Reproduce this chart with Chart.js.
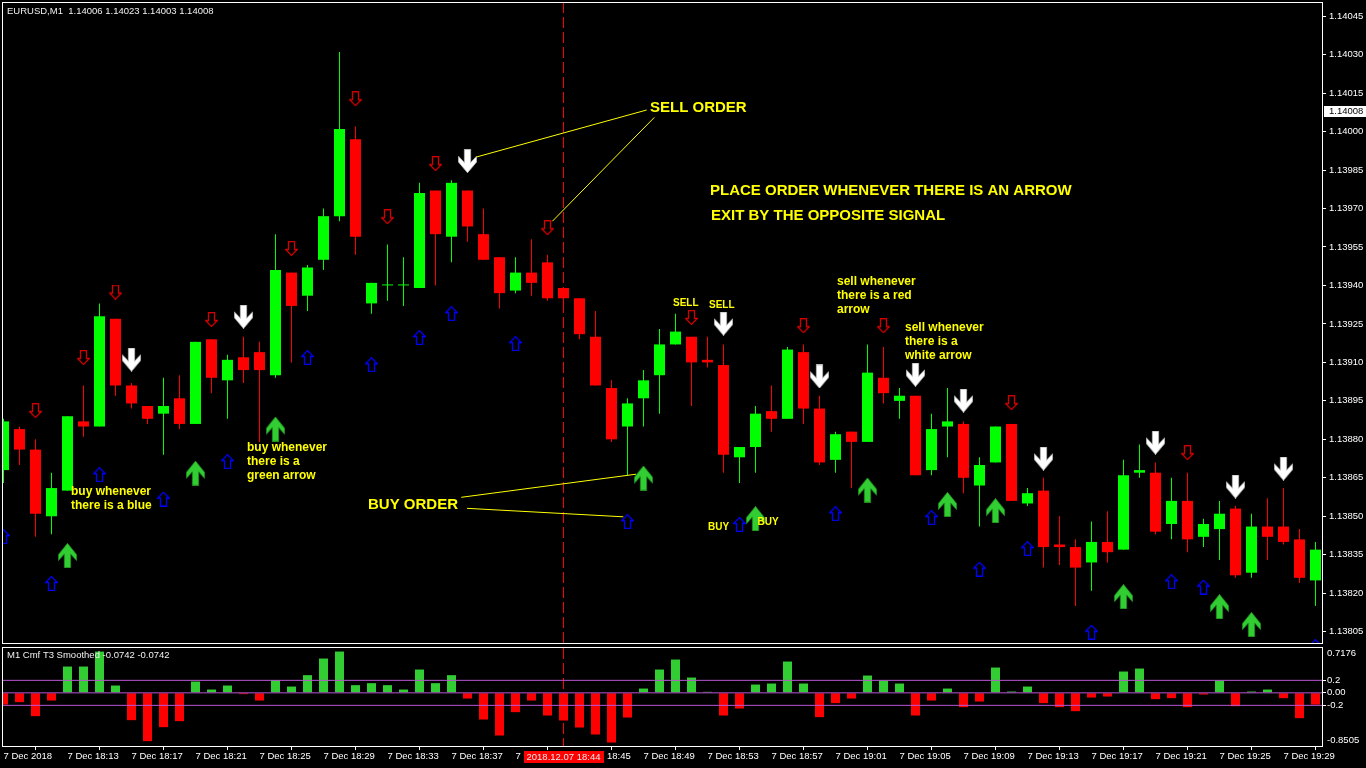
<!DOCTYPE html>
<html>
<head>
<meta charset="utf-8">
<title>EURUSD M1</title>
<script src="https://cdn.jsdelivr.net/npm/chart.js@4.4.0/dist/chart.umd.min.js"></script>
<style>
  html, body { margin: 0; padding: 0; background: #000; overflow: hidden; }
  #wrap { position: relative; width: 1366px; height: 768px; background: #000; }
  #priceCanvas { position: absolute; left: 0; top: 0; }
  #cmfCanvas { position: absolute; left: 0; top: 645px; }
</style>
</head>
<body>
<div id="wrap">
  <canvas id="priceCanvas" width="1366" height="645"></canvas>
  <canvas id="cmfCanvas" width="1366" height="123"></canvas>
</div>
<script>
// ---- EURUSD M1 bars, 7 Dec 2018 18:09 .. 19:31 ----
const barOpen = [
  1.13868,1.13884,1.13876,1.13850,1.13860,1.13887,1.13885,1.13927,1.13901,1.13893,
  1.13890,1.13896,1.13886,1.13919,1.13903,1.13912,1.13914,1.13905,1.13945,1.13936,
  1.13950,1.13967,1.13997,1.13933,1.13940,1.13940,1.13939,1.13977,1.13959,1.13977,
  1.13960,1.13951,1.13938,1.13945,1.13949,1.13939,1.13935,1.13920,1.13900,1.13885,
  1.13896,1.13905,1.13917,1.13920,1.13911,1.13909,1.13873,1.13877,1.13891,1.13888,
  1.13914,1.13892,1.13872,1.13883,1.13879,1.13904,1.13895,1.13897,1.13868,1.13885,
  1.13886,1.13862,1.13871,1.13886,1.13855,1.13860,1.13839,1.13838,1.13832,1.13840,
  1.13837,1.13867,1.13867,1.13847,1.13856,1.13842,1.13845,1.13853,1.13828,1.13846,
  1.13846,1.13841,1.13825
];
const barHigh = [
  1.13888,1.13885,1.13880,1.13867,1.13889,1.13901,1.13933,1.13927,1.13902,1.13893,
  1.13904,1.13905,1.13918,1.13919,1.13913,1.13920,1.13918,1.13960,1.13945,1.13948,
  1.13970,1.14031,1.14002,1.13941,1.13956,1.13951,1.13980,1.13977,1.13981,1.13977,
  1.13970,1.13951,1.13951,1.13958,1.13952,1.13939,1.13935,1.13930,1.13903,1.13896,
  1.13907,1.13923,1.13929,1.13920,1.13920,1.13917,1.13877,1.13893,1.13901,1.13916,
  1.13917,1.13897,1.13883,1.13883,1.13917,1.13916,1.13900,1.13897,1.13890,1.13900,
  1.13887,1.13873,1.13885,1.13886,1.13861,1.13865,1.13850,1.13841,1.13848,1.13852,
  1.13872,1.13878,1.13871,1.13865,1.13867,1.13849,1.13856,1.13854,1.13851,1.13857,
  1.13861,1.13845,1.13840
];
const barLow = [
  1.13863,1.13870,1.13842,1.13843,1.13860,1.13881,1.13885,1.13897,1.13892,1.13886,
  1.13874,1.13884,1.13886,1.13898,1.13888,1.13902,1.13879,1.13904,1.13910,1.13930,
  1.13946,1.13965,1.13952,1.13929,1.13934,1.13932,1.13939,1.13940,1.13949,1.13957,
  1.13950,1.13931,1.13937,1.13936,1.13934,1.13933,1.13919,1.13901,1.13879,1.13866,
  1.13885,1.13890,1.13917,1.13893,1.13908,1.13867,1.13863,1.13867,1.13883,1.13888,
  1.13886,1.13870,1.13867,1.13861,1.13879,1.13894,1.13888,1.13866,1.13866,1.13873,
  1.13859,1.13846,1.13871,1.13856,1.13854,1.13830,1.13831,1.13815,1.13821,1.13832,
  1.13837,1.13865,1.13843,1.13841,1.13836,1.13838,1.13833,1.13826,1.13826,1.13833,
  1.13839,1.13824,1.13815
];
const barClose = [
  1.13887,1.13876,1.13851,1.13861,1.13889,1.13885,1.13928,1.13901,1.13894,1.13888,
  1.13893,1.13886,1.13918,1.13904,1.13911,1.13907,1.13907,1.13946,1.13932,1.13947,
  1.13967,1.14001,1.13959,1.13941,1.13940,1.13940,1.13976,1.13960,1.13980,1.13963,
  1.13950,1.13937,1.13945,1.13941,1.13935,1.13935,1.13921,1.13901,1.13880,1.13894,
  1.13903,1.13917,1.13922,1.13910,1.13910,1.13874,1.13877,1.13890,1.13888,1.13915,
  1.13892,1.13871,1.13882,1.13879,1.13906,1.13898,1.13897,1.13866,1.13884,1.13887,
  1.13865,1.13870,1.13885,1.13856,1.13859,1.13838,1.13838,1.13830,1.13840,1.13836,
  1.13866,1.13868,1.13844,1.13856,1.13841,1.13847,1.13851,1.13827,1.13846,1.13842,
  1.13840,1.13826,1.13837
];

// ---- Cmf T3 smoothed histogram, one value per bar ----
const cmfValues = [
  -0.187,-0.149,-0.373,-0.123,0.421,0.421,0.660,0.117,-0.437,-0.773,
  -0.549,-0.453,0.181,0.053,0.117,-0.021,-0.123,0.203,0.101,0.283,
  0.549,0.661,0.123,0.155,0.123,0.053,0.373,0.155,0.283,-0.091,
  -0.427,-0.683,-0.309,-0.123,-0.363,-0.443,-0.555,-0.667,-0.795,-0.395,
  0.069,0.373,0.533,0.245,0.016,-0.363,-0.251,0.133,0.149,0.501,
  0.149,-0.389,-0.165,-0.091,0.277,0.197,0.149,-0.363,-0.123,0.069,
  -0.229,-0.139,0.405,0.021,0.101,-0.165,-0.229,-0.293,-0.075,-0.059,
  0.341,0.389,-0.101,-0.085,-0.229,-0.027,0.197,-0.213,0.021,0.053,
  -0.085,-0.405,-0.187
];
const cmfLevels = [0.2, 0, -0.2];
const cmfRange = [-0.8505, 0.7176];

// ---- signal arrows: bar index + level ----
const redDownBars   = [2,5,7,13,18,22,24,27,34,43,50,55,63,74];
const redDownLevels = [1.138912,1.139119,1.139374,1.139267,1.139544,1.140128,1.139668,1.139875,1.139625,1.139275,1.139243,1.139243,1.138943,1.138748];
const blueUpBars    = [0,3,6,10,14,19,23,26,28,32,39,46,52,58,61,64,68,73,75,82];
const blueUpLevels  = [1.138421,1.138238,1.138662,1.138567,1.138713,1.139119,1.139091,1.139197,1.139290,1.139173,1.138479,1.138468,1.138510,1.138495,1.138294,1.138374,1.138048,1.138245,1.138224,1.137992];
const whiteDownBars   = [8,15,29,45,51,57,60,65,72,77,80];
const whiteDownLevels = [1.139111,1.139278,1.139885,1.139251,1.139045,1.139052,1.138951,1.138725,1.138787,1.138616,1.138686];
const greenUpBars   = [4,12,17,40,47,54,59,62,70,76,78];
const greenUpLevels = [1.138347,1.138668,1.138840,1.138649,1.138491,1.138602,1.138546,1.138522,1.138187,1.138148,1.138078];

// ---- axes ----
const priceTicks = [1.14045,1.14030,1.14015,1.14000,1.13985,1.13970,1.13955,1.13940,1.13925,1.13910,1.13895,1.13880,1.13865,1.13850,1.13835,1.13820,1.13805];
const priceRange = [1.138006, 1.140505];
const lastPrice = 1.14008;
const timeTickLabels = ['7 Dec 2018','7 Dec 18:13','7 Dec 18:17','7 Dec 18:21','7 Dec 18:25','7 Dec 18:29','7 Dec 18:33','7 Dec 18:37','7 Dec 18:41','7 Dec 18:45','7 Dec 18:49','7 Dec 18:53','7 Dec 18:57','7 Dec 19:01','7 Dec 19:05','7 Dec 19:09','7 Dec 19:13','7 Dec 19:17','7 Dec 19:21','7 Dec 19:25','7 Dec 19:29'];
const timeTickStep = 4;
const markedBar = 35;
const markedTime = '2018.12.07 18:44';

// ---- trend-line annotations (bar index, price) ----
const connectors = [
  [[40.2, 1.140084], [29.575, 1.139901]],
  [[40.675, 1.140055], [34.3, 1.139650]],
  [[28.61, 1.138574], [39.53, 1.138664]],
  [[28.97, 1.138531], [38.74, 1.138498]]
];

// ---- drawing setup ----
const FONT = '"Liberation Sans", Arial, sans-serif';
Chart.defaults.font.family = FONT;
Chart.defaults.font.size = 9.5;
Chart.defaults.color = '#ffffff';

const BULL = '#00ff00', BEAR = '#ff0000';
const X_MIN = -0.09375, X_MAX = 82.40625;
const bars = barOpen.map((_, i) => i);
const candleColor = bars.map(i => barClose[i] >= barOpen[i] ? BULL : BEAR);

function hollowArrow(color, up) {
  const c = document.createElement('canvas');
  c.width = 13; c.height = 15;
  const g = c.getContext('2d');
  if (up) { g.translate(0, 15); g.scale(1, -1); }
  g.strokeStyle = color; g.lineWidth = 1.3; g.lineJoin = 'miter';
  g.beginPath();
  g.moveTo(3.5, 0.7); g.lineTo(9.5, 0.7); g.lineTo(9.5, 8.5); g.lineTo(12.4, 8.5);
  g.lineTo(6.5, 14.4); g.lineTo(0.6, 8.5); g.lineTo(3.5, 8.5); g.closePath();
  g.stroke();
  return c;
}
function solidArrow(fill, edge, up, w, h) {
  const c = document.createElement('canvas');
  c.width = w; c.height = h;
  const g = c.getContext('2d');
  if (up) { g.translate(0, h); g.scale(1, -1); }
  g.scale(w / 20, h / 24);
  const pts = [[6.7,0.3],[13.3,0.3],[13.3,13.5],[19.5,7.2],[19.5,13],[10,23.7],[0.5,13],[0.5,7.2],[6.7,13.5]];
  g.beginPath();
  pts.forEach(([x, y], k) => k ? g.lineTo(x, y) : g.moveTo(x, y));
  g.closePath();
  g.fillStyle = fill; g.fill();
  g.strokeStyle = edge; g.lineWidth = 0.8; g.stroke();
  return c;
}

function signalSet(label, barsIdx, levels, img) {
  return {
    type: 'scatter', label,
    data: barsIdx.map((x, k) => ({ x, y: levels[k] })),
    pointStyle: img, pointRadius: 10, pointHoverRadius: 10,
    order: 2, clip: 0
  };
}

// ---- annotation text (canvas px) ----
const notes = [
  { lines: ['SELL ORDER'], x: 650, y: 107.5, font: 'bold 15px ' + FONT },
  { lines: ['PLACE ORDER WHENEVER THERE IS AN ARROW'], x: 710, y: 191, font: 'bold 15px ' + FONT },
  { lines: ['EXIT BY THE OPPOSITE SIGNAL'], x: 711, y: 216, font: 'bold 15px ' + FONT },
  { lines: ['BUY ORDER'], x: 368, y: 504.5, font: 'bold 15px ' + FONT },
  { lines: ['SELL'], x: 673, y: 303, font: 'bold 10px ' + FONT },
  { lines: ['SELL'], x: 709, y: 305, font: 'bold 10px ' + FONT },
  { lines: ['BUY'], x: 708, y: 527, font: 'bold 10px ' + FONT },
  { lines: ['BUY'], x: 757.5, y: 522, font: 'bold 10px ' + FONT },
  { lines: ['buy whenever', 'there is a blue'], x: 71, y: 492, font: 'bold 12px ' + FONT },
  { lines: ['buy whenever', 'there is a', 'green arrow'], x: 247, y: 448, font: 'bold 12px ' + FONT },
  { lines: ['sell whenever', 'there is a red', 'arrow'], x: 837, y: 282, font: 'bold 12px ' + FONT },
  { lines: ['sell whenever', 'there is a', 'white arrow'], x: 905, y: 328, font: 'bold 12px ' + FONT }
];
const NOTE_COLOR = '#ffff00';

const priceDecor = {
  id: 'priceDecor',
  afterDatasetsDraw(chart) {
    const { ctx, scales: { x, y } } = chart;
    ctx.save();
    ctx.strokeStyle = NOTE_COLOR; ctx.lineWidth = 1;
    connectors.forEach(([a, b]) => {
      ctx.beginPath();
      ctx.moveTo(x.getPixelForValue(a[0]), y.getPixelForValue(a[1]));
      ctx.lineTo(x.getPixelForValue(b[0]), y.getPixelForValue(b[1]));
      ctx.stroke();
    });
    ctx.fillStyle = NOTE_COLOR; ctx.textBaseline = 'middle'; ctx.textAlign = 'left';
    notes.forEach(n => {
      ctx.font = n.font;
      n.lines.forEach((t, k) => ctx.fillText(t, n.x, n.y + k * 14));
    });
    ctx.restore();
  },
  afterDraw(chart) {
    const { ctx, chartArea: a, scales: { y } } = chart;
    ctx.save();
    ctx.strokeStyle = '#ffffff'; ctx.lineWidth = 1;
    ctx.strokeRect(2.5, 2.5, 1320, 641);
    ctx.font = '9.5px ' + FONT; ctx.textBaseline = 'middle'; ctx.textAlign = 'left';
    ctx.fillStyle = '#f0f0f0';
    ctx.fillText('EURUSD,M1  1.14006 1.14023 1.14003 1.14008', 7, 11);
    const py = Math.round(y.getPixelForValue(lastPrice));
    ctx.fillStyle = '#ffffff';
    ctx.fillRect(a.right + 2, py - 5, 1366 - a.right - 2, 11);
    ctx.fillStyle = '#000000';
    ctx.fillText(lastPrice.toFixed(5), a.right + 7, py + 0.5);
    ctx.restore();
  }
};

new Chart(document.getElementById('priceCanvas'), {
  type: 'bar',
  data: {
    datasets: [
      signalSet('sell', redDownBars, redDownLevels, hollowArrow('#d40000', false)),
      signalSet('buy', blueUpBars, blueUpLevels, hollowArrow('#0000ff', true)),
      signalSet('strong sell', whiteDownBars, whiteDownLevels, solidArrow('#ffffff', '#bdbdbd', false, 19, 24)),
      signalSet('strong buy', greenUpBars, greenUpLevels, solidArrow('#32cd32', '#1f8f1f', true, 19, 25)),
      {
        type: 'bar', label: 'body',
        data: bars.map(i => ({ x: i, y: [barOpen[i], barClose[i]] })),
        backgroundColor: candleColor, borderWidth: 0,
        barThickness: 11, minBarLength: 1, grouped: false, inflateAmount: 0,
        order: 5, clip: 0
      },
      {
        type: 'bar', label: 'wick',
        data: bars.map(i => ({ x: i, y: [barLow[i], barHigh[i]] })),
        backgroundColor: candleColor, borderWidth: 0,
        barThickness: 1, grouped: false, inflateAmount: 0,
        order: 6, clip: 0
      },
      {
        type: 'line', label: 'time mark',
        data: [{ x: markedBar, y: priceRange[1] }, { x: markedBar, y: priceRange[0] }],
        borderColor: '#ff0000', borderWidth: 1, borderDash: [11, 4],
        pointRadius: 0, order: 8, clip: 0
      }
    ]
  },
  options: {
    responsive: false, animation: false, devicePixelRatio: 1, events: [],
    layout: { autoPadding: false, padding: { left: 2, top: 2, right: 0, bottom: 2 } },
    plugins: { legend: { display: false }, tooltip: { enabled: false } },
    scales: {
      x: { type: 'linear', display: false, min: X_MIN, max: X_MAX, offset: false },
      y: {
        type: 'linear', position: 'right', min: priceRange[0], max: priceRange[1], beginAtZero: false,
        afterBuildTicks: s => { s.ticks = priceTicks.map(v => ({ value: v })); },
        afterFit: s => { s.width = 44; s.paddingTop = 0; s.paddingBottom = 0; },
        ticks: { color: '#ffffff', padding: 3, callback: v => Number(v).toFixed(5) },
        grid: { drawOnChartArea: false, drawTicks: true, tickLength: 4, color: '#ffffff' },
        border: { display: false }
      }
    }
  },
  plugins: [priceDecor]
});

const cmfDecor = {
  id: 'cmfDecor',
  afterDraw(chart) {
    const { ctx, chartArea: a, scales: { x } } = chart;
    ctx.save();
    ctx.strokeStyle = '#ffffff'; ctx.lineWidth = 1;
    ctx.strokeRect(2.5, 2.5, 1320, 99);
    ctx.font = '9.5px ' + FONT; ctx.textBaseline = 'middle'; ctx.textAlign = 'left';
    ctx.fillStyle = '#f0f0f0';
    ctx.fillText('M1 Cmf T3 Smoothed -0.0742 -0.0742', 7, 10.5);
    ctx.fillStyle = '#ffffff';
    ctx.fillText(cmfRange[1].toFixed(4), a.right + 5, a.top + 5.5);
    ctx.fillText(cmfRange[0].toFixed(4), a.right + 5, a.bottom - 6);
    const cx = x.getPixelForValue(markedBar);
    ctx.fillStyle = '#ff0000';
    ctx.fillRect(Math.round(cx) - 40, 106, 80, 12);
    ctx.fillStyle = '#e8e8e8'; ctx.textAlign = 'center';
    ctx.fillText(markedTime, cx, 112.5);
    ctx.restore();
  }
};

new Chart(document.getElementById('cmfCanvas'), {
  type: 'bar',
  data: {
    datasets: [
      ...cmfLevels.map(v => ({
        type: 'line', label: 'level',
        data: [{ x: X_MIN, y: v }, { x: X_MAX, y: v }],
        borderColor: '#ba55d3', borderWidth: 1, pointRadius: 0, order: 1, clip: 0
      })),
      {
        type: 'bar', label: 'Cmf T3',
        data: bars.map(i => ({ x: i, y: cmfValues[i] })),
        backgroundColor: cmfValues.map(v => v >= 0 ? '#32cd32' : '#ff0000'),
        borderWidth: 0, barThickness: 9, grouped: false, inflateAmount: 0,
        order: 3, clip: 0
      },
      {
        type: 'line', label: 'time mark',
        data: [{ x: markedBar, y: cmfRange[1] }, { x: markedBar, y: cmfRange[0] }],
        borderColor: '#ff0000', borderWidth: 1, borderDash: [11, 4],
        pointRadius: 0, order: 6, clip: 0
      }
    ]
  },
  options: {
    responsive: false, animation: false, devicePixelRatio: 1, events: [],
    layout: { autoPadding: false, padding: { left: 2, top: 3, right: 0, bottom: 0 } },
    plugins: { legend: { display: false }, tooltip: { enabled: false } },
    scales: {
      x: {
        type: 'linear', position: 'bottom', min: X_MIN, max: X_MAX, offset: false,
        afterBuildTicks: s => { s.ticks = timeTickLabels.map((_, k) => ({ value: k * timeTickStep })); },
        afterFit: s => { s.height = 22; s.paddingLeft = 0; s.paddingRight = 0; },
        ticks: {
          color: '#ffffff', padding: 1, align: 'start', maxRotation: 0, minRotation: 0, autoSkip: false,
          callback: (v, k) => timeTickLabels[k]
        },
        grid: { drawOnChartArea: false, drawTicks: true, tickLength: 4, color: '#ffffff' },
        border: { display: false }
      },
      y: {
        type: 'linear', position: 'right', min: cmfRange[0], max: cmfRange[1], beginAtZero: false,
        afterBuildTicks: s => { s.ticks = cmfLevels.map(v => ({ value: v })); },
        afterFit: s => { s.width = 44; s.paddingTop = 0; s.paddingBottom = 0; },
        ticks: { color: '#ffffff', padding: 1, callback: v => v === 0 ? '0.00' : String(v) },
        grid: { drawOnChartArea: false, drawTicks: true, tickLength: 4, color: '#ffffff' },
        border: { display: false }
      }
    }
  },
  plugins: [cmfDecor]
});
</script>
</body>
</html>
